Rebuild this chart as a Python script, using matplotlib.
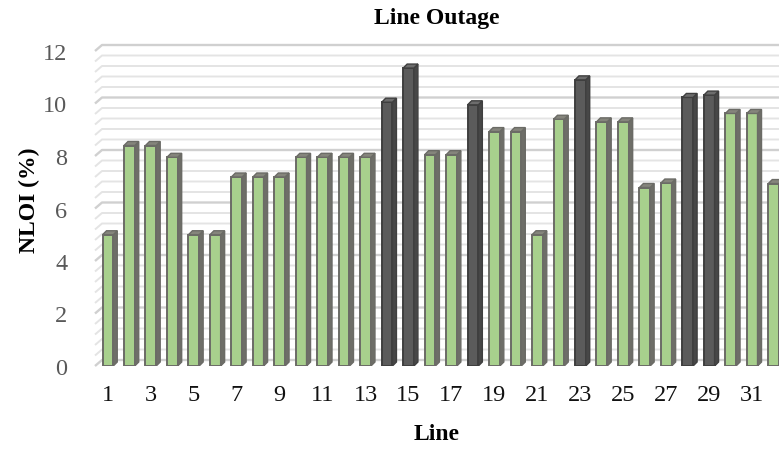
import matplotlib
matplotlib.use("Agg")
import matplotlib.pyplot as plt
from matplotlib.patches import Polygon
import numpy as np

# Normalised line outage index per outaged line
lines = list(range(1, 33))
nloi = [5.0, 8.4, 8.4, 7.95, 5.0, 5.0, 7.2, 7.2, 7.2, 7.95, 7.95, 7.95, 7.95,
        10.05, 11.35, 8.05, 8.05, 9.95, 8.93, 8.93, 5.0, 9.4, 10.9, 9.3, 9.3,
        6.8, 6.97, 10.23, 10.32, 9.62, 9.62, 6.95]
critical = [14, 15, 18, 23, 28, 29]
tick_lines = list(range(1, 33, 2))
y_ticks = [0, 2, 4, 6, 8, 10, 12]

plt.rcParams['font.family'] = ['Liberation Serif', 'DejaVu Serif']

W, H = 779, 452
fig = plt.figure(figsize=(W / 100, H / 100), dpi=100)
ax_l, ax_b, ax_r, ax_t = 95, 367, 779, 52
ax = fig.add_axes([ax_l / W, (H - ax_b) / H, (ax_r - ax_l) / W, (ax_b - ax_t) / H])
x0, x1 = 0.40, 32.25
y0, y1 = 0.0, 12.0
ax.set_xlim(x0, x1)
ax.set_ylim(y0, y1)

px_x = (x1 - x0) / (ax_r - ax_l)   # data units per pixel
px_y = (y1 - y0) / (ax_b - ax_t)

# back-wall gridlines with a short diagonal side wall on the left
wall_dx, wall_dy = 7 * px_x, 6 * px_y
minor = np.arange(0, 12.01, 0.4)
for v in minor:
    is_major = abs(v / 2 - round(v / 2)) < 1e-6
    col = '#d0d0d0' if is_major else '#e4e4e4'
    lw = 1.7 if is_major else 1.4
    ax.plot([x0, x0 + wall_dx, x1 + 1], [v, v + wall_dy, v + wall_dy],
            color=col, lw=lw, zorder=1, clip_on=False, solid_capstyle='butt')

# 3D-looking columns: front face plus side and top faces
w = 0.5
dx, dy = 4 * px_x, 4 * px_y
for x, v in zip(lines, nloi):
    if x in critical:
        front, side, top, edge = '#5b5b5b', '#474747', '#6d6d6d', '#3f3f3f'
    else:
        front, side, top, edge = '#a8d08d', '#6e6e68', '#85857c', '#6b6b66'
    ax.bar(x, v, width=w, color=front, edgecolor=edge, linewidth=1.4, zorder=3)
    xr = x + w / 2
    xl = x - w / 2
    ax.add_patch(Polygon([(xr, 0), (xr + dx, dy), (xr + dx, v + dy), (xr, v)],
                         closed=True, facecolor=side, edgecolor=edge,
                         linewidth=1.0, zorder=3))
    ax.add_patch(Polygon([(xl, v), (xr, v), (xr + dx, v + dy), (xl + dx, v + dy)],
                         closed=True, facecolor=top, edgecolor=edge,
                         linewidth=1.0, zorder=3, clip_on=False))

for s in ax.spines.values():
    s.set_visible(False)

ax.set_xticks(tick_lines)
ax.set_xticklabels([str(t) for t in tick_lines], fontsize=17.5, color='#111111')
ax.set_yticks(y_ticks)
ax.set_yticklabels([str(t) for t in y_ticks], fontsize=17.5, color='#595959')
ax.tick_params(axis='both', length=0)
ax.tick_params(axis='x', pad=13)
ax.tick_params(axis='y', pad=20)

ax.set_title('Line Outage', fontsize=17, fontweight='bold', pad=20)
ax.set_xlabel('Line', fontsize=17, fontweight='bold')
ax.set_ylabel('NLOI (%)', fontsize=17, fontweight='bold')
ax.xaxis.set_label_coords(0.5, -0.182)
ax.yaxis.set_label_coords(-0.080, 0.53)

fig.savefig('out.png', dpi=100, facecolor='white')
